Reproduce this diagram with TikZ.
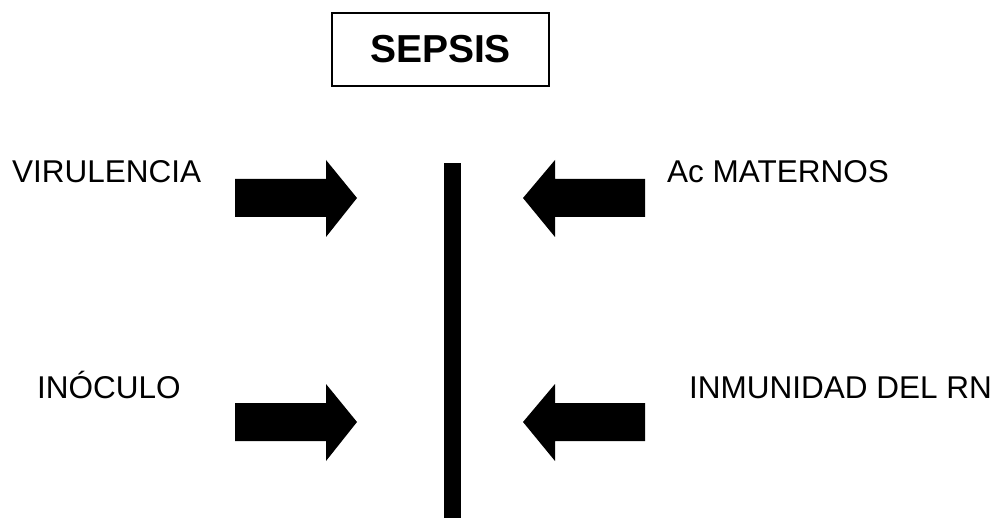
\documentclass[tikz,border=0pt]{standalone}
\usepackage{fontspec}
\setmainfont{Liberation Sans}
\begin{document}
\begin{tikzpicture}[x=1pt,y=-1pt,
  lbl/.style={inner sep=0pt,anchor=base west,font=\fontsize{31.5}{36}\selectfont},
  title/.style={draw,line width=1.5pt,minimum width=217pt,minimum height=73pt,inner sep=0pt,font=\fontsize{39}{46}\selectfont\bfseries},
  fatarrow/.style={fill=black}]
\useasboundingbox (0,0) rectangle (998,518);
\node[title] (sepsis) at (440.5,49.5) {SEPSIS};
\node[lbl] (vir) at (12,183) {VIRULENCIA};
\node[lbl] (acm) at (667,183) {Ac MATERNOS};
\node[lbl] (ino) at (37,398) {INÓCULO};
\node[lbl] (inm) at (689,398) {INMUNIDAD DEL RN};
% barrier
\fill (444,163) rectangle (461,518);
% arrows
\foreach \dy in {0,224}{
  \begin{scope}[yshift=-\dy pt]
  \fill[fatarrow] (235,179) -- (326,179) -- (326,160) -- (357,198) -- (326,237) -- (326,217) -- (235,217) -- cycle;
  \fill[fatarrow] (645,179) -- (555,179) -- (555,160) -- (523,198) -- (555,237) -- (555,217) -- (645,217) -- cycle;
  \end{scope}}
\end{tikzpicture}
\end{document}
